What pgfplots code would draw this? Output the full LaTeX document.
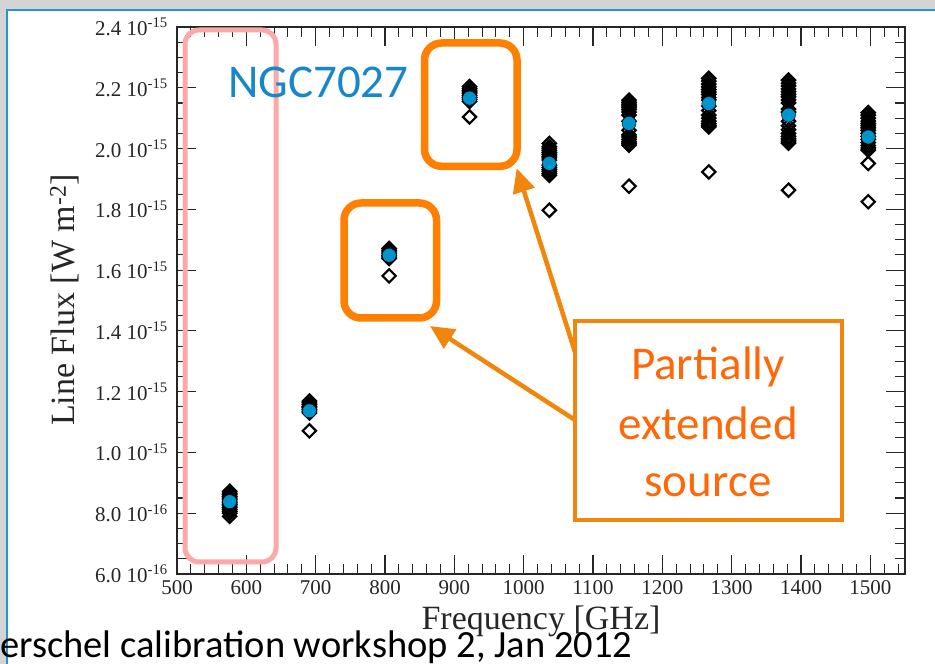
\documentclass[border=0pt]{standalone}
\usepackage{pgfplots}
\usepackage{pgfplotstable}
\pgfplotsset{compat=1.18}
\usepackage{fontspec}
\setmainfont{Liberation Serif}
\newfontfamily\calibri{Carlito}
\usetikzlibrary{arrows.meta}

\definecolor{slidegray}{RGB}{212,212,212}
\definecolor{frameblue}{RGB}{38,150,210}
\definecolor{meanblue}{RGB}{0,148,204}
\definecolor{titleblue}{RGB}{24,134,200}
\definecolor{boxorange}{RGB}{255,128,0}
\definecolor{noteorange}{RGB}{240,134,12}
\definecolor{textorange}{RGB}{255,104,8}
\definecolor{bandpink}{RGB}{250,168,168}

% individual CO line fluxes (W m^-2) per observation
\pgfplotstableread{
freq flux
576 0.872e-15
576 0.866e-15
576 0.861e-15
576 0.855e-15
576 0.850e-15
576 0.846e-15
576 0.840e-15
576 0.834e-15
576 0.829e-15
576 0.824e-15
576 0.818e-15
576 0.812e-15
576 0.806e-15
576 0.800e-15
576 0.790e-15
691 1.169e-15
691 1.163e-15
691 1.158e-15
691 1.152e-15
691 1.147e-15
691 1.141e-15
691 1.136e-15
691 1.130e-15
691 1.071e-15
806 1.671e-15
806 1.665e-15
806 1.660e-15
806 1.654e-15
806 1.648e-15
806 1.643e-15
806 1.638e-15
806 1.581e-15
922 2.204e-15
922 2.198e-15
922 2.192e-15
922 2.186e-15
922 2.180e-15
922 2.174e-15
922 2.168e-15
922 2.162e-15
922 2.155e-15
922 2.104e-15
1037 2.017e-15
1037 2.006e-15
1037 1.999e-15
1037 1.993e-15
1037 1.987e-15
1037 1.981e-15
1037 1.975e-15
1037 1.969e-15
1037 1.962e-15
1037 1.945e-15
1037 1.938e-15
1037 1.931e-15
1037 1.925e-15
1037 1.918e-15
1037 1.912e-15
1037 1.797e-15
1152 2.159e-15
1152 2.152e-15
1152 2.146e-15
1152 2.140e-15
1152 2.134e-15
1152 2.128e-15
1152 2.120e-15
1152 2.110e-15
1152 2.090e-15
1152 2.060e-15
1152 2.045e-15
1152 2.038e-15
1152 2.030e-15
1152 2.022e-15
1152 2.016e-15
1152 2.011e-15
1152 1.876e-15
1267 2.231e-15
1267 2.222e-15
1267 2.212e-15
1267 2.203e-15
1267 2.194e-15
1267 2.186e-15
1267 2.178e-15
1267 2.168e-15
1267 2.160e-15
1267 2.140e-15
1267 2.125e-15
1267 2.110e-15
1267 2.100e-15
1267 2.090e-15
1267 2.082e-15
1267 2.076e-15
1267 2.071e-15
1267 1.923e-15
1382 2.225e-15
1382 2.215e-15
1382 2.206e-15
1382 2.196e-15
1382 2.187e-15
1382 2.178e-15
1382 2.170e-15
1382 2.160e-15
1382 2.150e-15
1382 2.130e-15
1382 2.120e-15
1382 2.090e-15
1382 2.075e-15
1382 2.062e-15
1382 2.050e-15
1382 2.040e-15
1382 2.032e-15
1382 2.025e-15
1382 2.018e-15
1382 1.863e-15
1497 2.118e-15
1497 2.110e-15
1497 2.100e-15
1497 2.090e-15
1497 2.082e-15
1497 2.075e-15
1497 2.068e-15
1497 2.060e-15
1497 2.050e-15
1497 2.040e-15
1497 2.030e-15
1497 2.020e-15
1497 2.010e-15
1497 2.002e-15
1497 1.995e-15
1497 1.951e-15
1497 1.825e-15
}\obstable

% mean flux per line
\pgfplotstableread{
freq flux
576 0.838e-15
691 1.137e-15
806 1.649e-15
922 2.166e-15
1037 1.951e-15
1152 2.083e-15
1267 2.148e-15
1382 2.110e-15
1497 2.038e-15
}\meantable

\begin{document}
\begin{tikzpicture}[x=1pt,y=1pt]
\useasboundingbox (0,0) rectangle (935,664);
% slide background and content panel
\fill[slidegray] (0,0) rectangle (935,664);
\fill[white] (7,0) rectangle (935,654);
\draw[frameblue, line width=2pt] (7,0) -- (7,654) -- (935,654);

\begin{axis}[
  at={(177pt,90pt)}, anchor=south west, scale only axis,
  width=728pt, height=547pt,
  xmin=500, xmax=1550, ymin=0.6e-15, ymax=2.4e-15,
  xtick={500,600,700,800,900,1000,1100,1200,1300,1400,1500},
  xticklabels={500,600,700,800,900,1000,1100,1200,1300,1400,1500},
  minor xtick={520,540,560,580,620,640,660,680,720,740,760,780,820,840,860,880,920,940,960,980,1020,1040,1060,1080,1120,1140,1160,1180,1220,1240,1260,1280,1320,1340,1360,1380,1420,1440,1460,1480,1520,1540},
  ytick={0.6e-15,0.8e-15,1.0e-15,1.2e-15,1.4e-15,1.6e-15,1.8e-15,2.0e-15,2.2e-15,2.4e-15},
  yticklabels={6.0 10\textsuperscript{-16},8.0 10\textsuperscript{-16},1.0 10\textsuperscript{-15},1.2 10\textsuperscript{-15},1.4 10\textsuperscript{-15},1.6 10\textsuperscript{-15},1.8 10\textsuperscript{-15},2.0 10\textsuperscript{-15},2.2 10\textsuperscript{-15},2.4 10\textsuperscript{-15}},
  minor y tick num=3,
  scaled y ticks=false, scaled x ticks=false,
  major tick length=19pt, minor tick length=10pt,
  tick style={black!85, line width=1.1pt},
  axis line style={line width=1.3pt, black!85},
  tick label style={font=\fontsize{21}{21}\selectfont, black!85},
  yticklabel style={inner sep=0pt, xshift=-9pt},
  xticklabel style={yshift=-3pt},
  clip=false,
]
\addplot[only marks, mark=square, mark size=4.7pt,
  mark options={rotate=45, line width=2.2pt, draw=black, fill=none}]
  table[x=freq, y=flux] {\obstable};
\addplot[only marks, mark=*, mark size=7pt,
  mark options={draw=none, fill=meanblue}]
  table[x=freq, y=flux] {\meantable};
\end{axis}

% axis titles
\node[rotate=90, anchor=base, font=\fontsize{34}{34}\selectfont, black!85] at (75,364) {Line Flux [W m\textsuperscript{-2}]};
\node[anchor=base, font=\fontsize{34}{34}\selectfont, black!85] at (541,34) {Frequency [GHz]};

% annotations
\draw[bandpink, line width=5pt, rounded corners=14pt] (185,634) rectangle (276,102);
\draw[boxorange, line width=7.5pt, rounded corners=17pt] (424.5,621) rectangle (517,497.7);
\draw[boxorange, line width=7.5pt, rounded corners=17pt] (344,461) rectangle (436.5,346);
\draw[noteorange, line width=4.5pt, -{Triangle[length=24pt, width=22pt]}] (575,312) -- (516.7,495.7);
\draw[noteorange, line width=4.5pt, -{Triangle[length=24pt, width=22pt]}] (575,244) -- (430,338);
\draw[noteorange, line width=4pt, fill=white] (575,343.3) rectangle (841.7,144);
\node[anchor=base, font=\calibri\fontsize{47}{47}\selectfont, textorange] at (708,284) {Partially};
\node[anchor=base, font=\calibri\fontsize{47}{47}\selectfont, textorange] at (708,224) {extended};
\node[anchor=base, font=\calibri\fontsize{47}{47}\selectfont, textorange] at (708,167) {source};
\node[anchor=base west, inner sep=0pt, font=\calibri\fontsize{47}{47}\selectfont, titleblue] at (228,566) {NGC7027};

% footer
\node[anchor=base west, inner sep=0pt, font=\calibri\fontsize{38.5}{38.5}\selectfont, black] at (0,6) {erschel calibration workshop 2, Jan 2012};
\end{tikzpicture}
\end{document}
